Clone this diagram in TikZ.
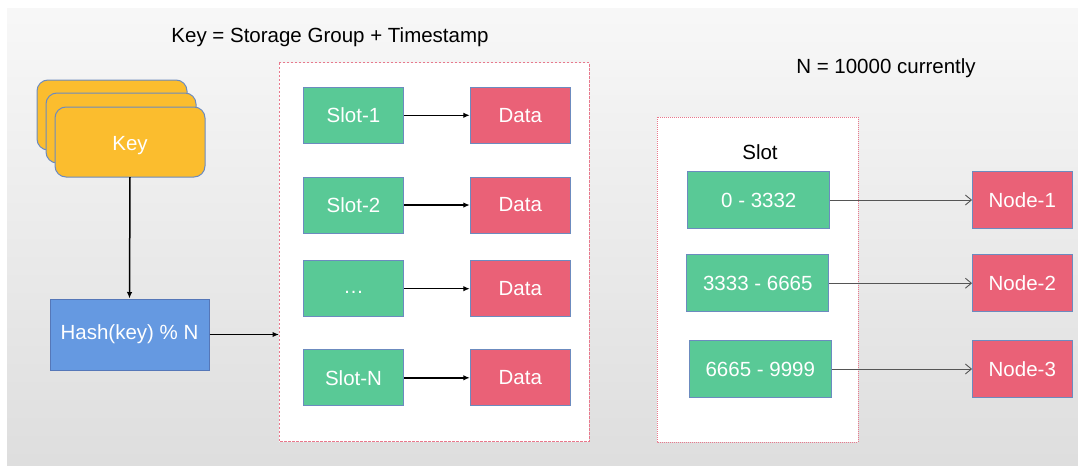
\documentclass[tikz,border=0pt]{standalone}
\usepackage{fontspec}
\setmainfont{Liberation Sans}
\usetikzlibrary{arrows.meta}
\definecolor{keyc}{HTML}{FBBD2E}
\definecolor{hashc}{HTML}{6599E1}
\definecolor{hashb}{HTML}{5577B8}
\definecolor{slotc}{HTML}{59C996}
\definecolor{datac}{HTML}{EA6177}
\definecolor{bordc}{HTML}{6C8BBF}
\definecolor{dashc}{HTML}{E8788C}
\definecolor{thinc}{HTML}{555555}
\tikzset{
  lbl/.style={font=\fontsize{20.5}{24}\selectfont, inner sep=0pt},
  card/.style={draw=bordc, line width=1pt, fill=keyc, rounded corners=11pt},
  bx/.style={draw=bordc, line width=1pt, text=white, inner sep=0pt,
    font=\fontsize{20.5}{24}\selectfont},
  slotbox/.style={bx, fill=slotc, minimum width=100pt, minimum height=56pt},
  databox/.style={bx, fill=datac, minimum width=100pt, minimum height=56pt},
  rangebox/.style={bx, fill=slotc, minimum width=142pt, minimum height=56.5pt},
  nodebox/.style={bx, fill=datac, minimum width=99.5pt, minimum height=56.5pt},
  grp/.style={draw=dashc, line width=0.9pt, fill=white},
  arr/.style={line width=1.5pt, -{Latex[length=6.5pt,width=5.5pt]}},
  thinarr/.style={draw=thinc, line width=0.9pt, -{Straight Barb[length=6pt,width=10pt]}}
}
\begin{document}
\begin{tikzpicture}[x=1pt,y=-1pt]
\useasboundingbox (0,0) rectangle (1078,466);
\fill[white] (0,0) rectangle (1078,466);
\shade[top color=white!97!black, bottom color=white!87!black] (7,8) rectangle (1078,465);

% title texts
\node[lbl, anchor=base] (title) at (330,42) {Key = Storage Group + Timestamp};
\node[lbl, anchor=base] (ntext) at (886,73) {N = 10000 currently};

% key stack
\draw[card] (37,80) rectangle (187,150);
\draw[card] (46,93) rectangle (196,163);
\draw[card] (55,107) rectangle (205,177);
\node[lbl, text=white, anchor=base] (key) at (130,150.5) {Key};
\coordinate (keybot) at (130,177);

% hash
\node[bx, fill=hashc, draw=hashb, minimum width=159pt, minimum height=71pt] (hash) at (129.5,334.5) {Hash(key) \% N};

% left group
\draw[grp, dash pattern=on 2.5pt off 1.5pt] (279,62.5) rectangle (589,441.5);
\coordinate (grpin) at (279,334.5);

\node[slotbox] (s1) at (353.5,115.3) {Slot-1};
\node[slotbox] (s2) at (353.5,205) {Slot-2};
\node[slotbox] (s3) at (353.5,288.7) {\vphantom{Dg}…};
\node[slotbox] (sn) at (353.5,377.8) {Slot-N};

\node[databox] (d1) at (520.3,115.3) {Data};
\node[databox] (d2) at (520.3,205) {Data};
\node[databox] (d3) at (520.3,288.7) {Data};
\node[databox] (dn) at (520.3,377.8) {Data};

% right group
\draw[grp, dash pattern=on 1pt off 1pt] (657,117) rectangle (858,442);
\node[lbl, anchor=base] (slotlbl) at (760,159.3) {Slot};

\node[rangebox] (r1) at (758.8,200) {0 - 3332};
\node[rangebox] (r2) at (757.8,283.2) {3333 - 6665};
\node[rangebox] (r3) at (760.3,369) {6665 - 9999};

\node[nodebox] (n1) at (1022.3,200) {Node-1};
\node[nodebox] (n2) at (1022.3,283.2) {Node-2};
\node[nodebox] (n3) at (1022.3,369) {Node-3};

% connectors
\draw[arr] (keybot) -- (hash.north);
\draw[arr] (hash.east) -- (grpin);
\draw[arr] (s1) -- (d1);
\draw[arr] (s2) -- (d2);
\draw[arr] (s3) -- (d3);
\draw[arr] (sn) -- (dn);
\draw[thinarr] (r1) -- (n1);
\draw[thinarr] (r2) -- (n2);
\draw[thinarr] (r3) -- (n3);
\end{tikzpicture}
\end{document}
